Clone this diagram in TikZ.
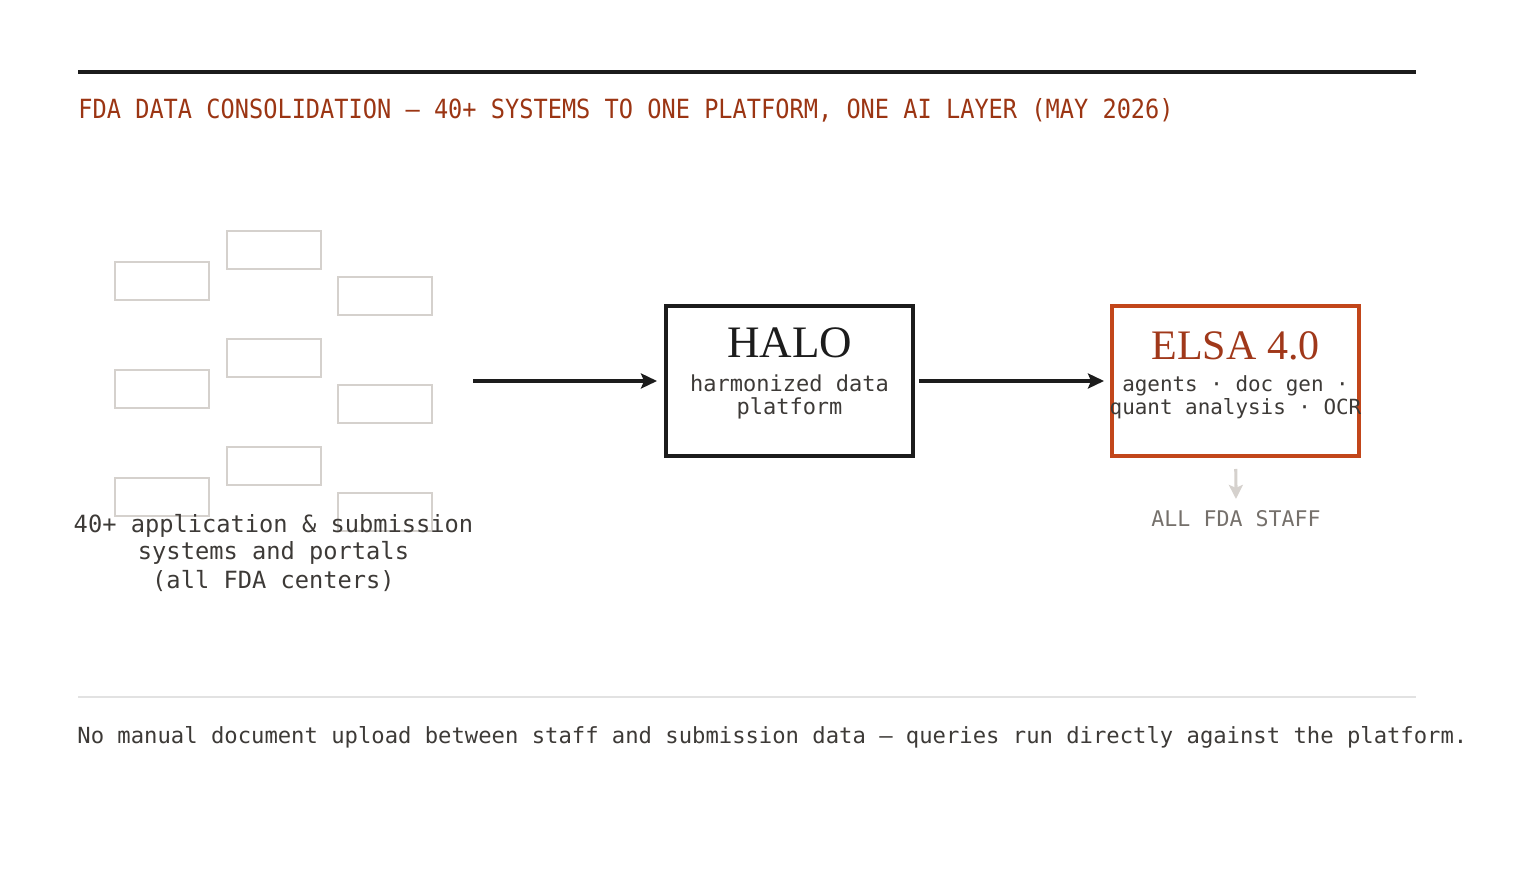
\documentclass[tikz,border=0pt]{standalone}
\usepackage{fontspec}
\setmonofont{DejaVu Sans Mono}
\newfontfamily\headserif{Liberation Serif}
\newfontfamily\titlemono[FakeStretch=0.895]{DejaVu Sans Mono}
\usetikzlibrary{arrows.meta}
\definecolor{ink}{HTML}{1C1C1C}
\definecolor{rust}{HTML}{9B3513}
\definecolor{elsaedge}{HTML}{C2461A}
\definecolor{elsatext}{HTML}{A0381A}
\definecolor{textgray}{HTML}{3D3A37}
\definecolor{boxgray}{HTML}{D5D1CD}
\definecolor{staffgray}{HTML}{75706B}
\definecolor{rulegray}{HTML}{E2E2E2}
\tikzset{
  sysbox/.style={draw=boxgray, line width=1pt, minimum width=47pt, minimum height=19pt, inner sep=0pt},
  stage/.style={draw=ink, line width=2pt, minimum width=123.5pt, minimum height=75pt},
  flow/.style={-{Stealth[length=8pt,width=7.5pt,inset=1.5pt]}, draw=ink, line width=1.6pt},
  subtext/.style={font=\ttfamily\fontsize{11}{11.5}\selectfont, text=textgray, align=center, inner sep=0pt},
}
\begin{document}
\begin{tikzpicture}[x=0.5pt,y=-0.5pt]
  \useasboundingbox (0,0) rectangle (1518,870);
  % header
  \draw[ink, line width=2pt] (78,72) -- (1416,72);
  \node[anchor=base west, inner sep=0pt, text=rust, font=\titlemono\fontsize{13.2}{15}\selectfont] (title) at (78,119)
    {FDA DATA CONSOLIDATION — 40+ SYSTEMS TO ONE PLATFORM, ONE AI LAYER (MAY 2026)};
  % scattered source systems
  \foreach \c/\x/\y in {1/161.5/281, 2/273.5/250, 3/384.5/296}
    \foreach \r in {0,1,2}
      \node[sysbox] (sys\c\r) at (\x,\y+108*\r) {};
  \node[subtext, font=\ttfamily\fontsize{11.85}{14}\selectfont, anchor=base] (systems) at (273.5,588)
    {40+ application \& submission\\systems and portals\\(all FDA centers)};
  % platform and AI layer
  \node[stage] (halo) at (789.5,381) {};
  \node[anchor=base, inner sep=0pt, text=ink, font=\headserif\fontsize{22.5}{24}\selectfont] (halotitle) at (789.5,358) {HALO};
  \node[subtext, anchor=base] (halosub) at (789.5,415) {harmonized data\\platform};
  \node[stage, draw=elsaedge] (elsa) at (1235.5,381) {};
  \node[anchor=base, inner sep=0pt, text=elsatext, font=\headserif\fontsize{21}{24}\selectfont] (elsatitle) at (1235.5,360) {ELSA 4.0};
  \node[subtext, font=\ttfamily\fontsize{10.45}{11.5}\selectfont, anchor=base] (elsasub) at (1235.5,415) {agents · doc gen ·\\quant analysis · OCR};
  \node[anchor=base, text=staffgray, font=\ttfamily\fontsize{10.8}{12}\selectfont] (staff) at (1236,527) {ALL FDA STAFF};
  \coordinate (feed) at (473,381);
  \draw[flow, shorten >=3.5pt] (feed) -- (halo);
  \draw[flow, shorten <=2pt, shorten >=3pt] (halo) -- (elsa);
  \draw[-{Stealth[length=7pt,width=7pt,inset=1.5pt]}, boxgray, line width=1.6pt, shorten <=5.5pt, shorten >=2.5pt] (elsa) -- (staff);
  % footer
  \draw[rulegray, line width=1pt] (78,697) -- (1416,697);
  \node[anchor=base west, inner sep=0pt, text=textgray, font=\ttfamily\fontsize{11.1}{13}\selectfont] (note) at (77,743)
    {No manual document upload between staff and submission data — queries run directly against the platform.};
\end{tikzpicture}
\end{document}
